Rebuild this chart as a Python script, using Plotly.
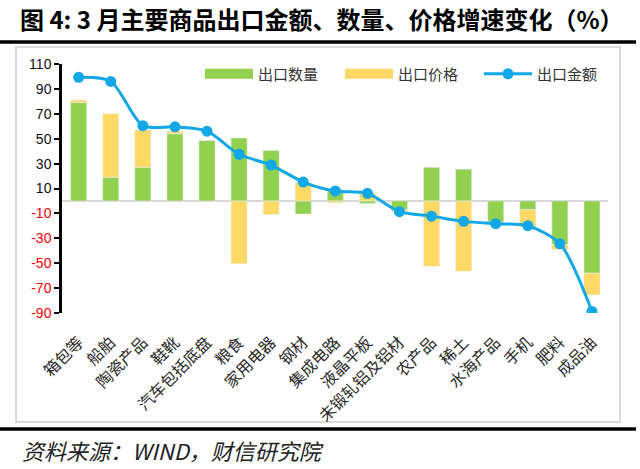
import plotly.graph_objects as go

categories = ["箱包等", "船舶", "陶瓷产品", "鞋靴", "汽车包括底盘", "粮食", "家用电器", "钢材",
              "集成电路", "液晶平板", "未锻轧铝及铝材", "农产品", "稀土", "水海产品", "手机", "肥料", "成品油"]
quantity = [79, 19, 27, 54, 48.5, 50.5, 40.5, -10.5, 9, -2, -7, 27, 25.5, -17, -7, -35, -58]
price = [2, 51, 30, 2, 0, -50.5, -11, 14.7, -1.5, 6.5, -1.5, -52.5, -56.5, -1, -14, -4, -17.5]
value = [99.3, 96, 60.5, 59.5, 56, 37.5, 28.8, 15.2, 7.9, 6.1, -8.6, -12.2, -16.4, -18.3, -19.9, -34.4, -88.7]
ytick_vals = [110, 90, 70, 50, 30, 10, -10, -30, -50, -70, -90]

GREEN = "#92D050"
YELLOW = "#FFD966"
BLUE = "#12A7E6"
CJK = "Noto Sans CJK SC"

fig = go.Figure()
x_idx = list(range(len(categories)))
fig.add_trace(go.Bar(x=x_idx, y=quantity, marker_color=GREEN, width=0.5, showlegend=False, name="出口数量"))
fig.add_trace(go.Bar(x=x_idx, y=price, marker_color=YELLOW, width=0.5, showlegend=False, name="出口价格"))
fig.add_trace(go.Scatter(x=x_idx, y=value, mode="lines+markers", line=dict(color=BLUE, width=3, shape="spline", smoothing=0.8),
                         marker=dict(size=11, color=BLUE), showlegend=False, name="出口金额"))
# legend entries
fig.add_trace(go.Scatter(x=[None], y=[None], mode="lines", line=dict(color=GREEN, width=10), name="出口数量",
                         legend="legend"))
fig.add_trace(go.Scatter(x=[None], y=[None], mode="lines", line=dict(color=YELLOW, width=10), name="出口价格",
                         legend="legend2"))
fig.add_trace(go.Scatter(x=[None], y=[None], mode="lines+markers", line=dict(color=BLUE, width=3),
                         marker=dict(size=11, color=BLUE), name="出口金额", legend="legend3"))

ticktext = [f"<span style='color:#FF0000'>{v}</span>" if v < 0 else str(v) for v in ytick_vals]

L, R, T, B = 62, 32, 64, 156
W, H = 640, 469
pw, ph = W - L - R, H - T - B
def px(x):
    return (x - L) / pw
def py(y):
    return (H - B - y) / ph

def leg(xpix):
    return dict(orientation="h", x=px(xpix), y=py(74), xanchor="left", yanchor="middle",
                itemwidth=48, font=dict(family=CJK, size=15, color="#333"), bgcolor="rgba(0,0,0,0)")

fig.update_layout(
    width=W, height=H,
    margin=dict(l=L, r=R, t=T, b=B, autoexpand=False),
    paper_bgcolor="white", plot_bgcolor="white",
    barmode="relative",
    font=dict(family=CJK, size=13, color="#222"),
    xaxis=dict(range=[-0.52, 16.5], tickmode="array", tickvals=x_idx, ticktext=categories,
               tickangle=-45, showgrid=False, zeroline=False, showline=False, ticks="",
               automargin=False, ticklabelstandoff=16,
               tickfont=dict(family=CJK, size=16, color="#2a2a2a")),
    yaxis=dict(range=[-90, 110], tickmode="array", tickvals=ytick_vals, ticktext=ticktext,
               showgrid=False, zeroline=True, zerolinecolor="#D9D9D9", zerolinewidth=2,
               automargin=False,
               showline=True, linecolor="black", linewidth=2.5, ticks="outside", tickcolor="black",
               ticklen=5, tickwidth=2, tickfont=dict(family="Liberation Sans", size=14, color="#111")),
    legend=leg(200),
    legend2=leg(340),
    legend3=leg(479),
    shapes=[
        dict(type="rect", xref="paper", yref="paper", x0=px(16), x1=px(620), y0=py(422), y1=py(47),
             line=dict(color="#D9D9D9", width=2), layer="below"),
        dict(type="line", xref="paper", yref="paper", x0=px(0), x1=px(636), y0=py(42), y1=py(42),
             line=dict(color="black", width=3.5)),
        dict(type="line", xref="paper", yref="paper", x0=px(0), x1=px(636), y0=py(429), y1=py(429),
             line=dict(color="black", width=3.5)),
    ],
    annotations=[
        dict(text="<b>图 4: 3 月主要商品出口金额、数量、价格增速变化（%）</b>", xref="paper", yref="paper",
             x=px(18), y=py(19), xanchor="left", yanchor="middle", showarrow=False,
             font=dict(family=CJK, size=24, color="black")),
        dict(text="<i>资料来源：WIND，财信研究院</i>", xref="paper", yref="paper",
             x=px(20), y=py(450), xanchor="left", yanchor="middle", showarrow=False,
             font=dict(family=CJK, size=22, color="#222")),
    ],
)

fig.write_html("out.html", config={"displayModeBar": False},
               post_script="document.body.style.margin='0';document.body.style.padding='0';")
